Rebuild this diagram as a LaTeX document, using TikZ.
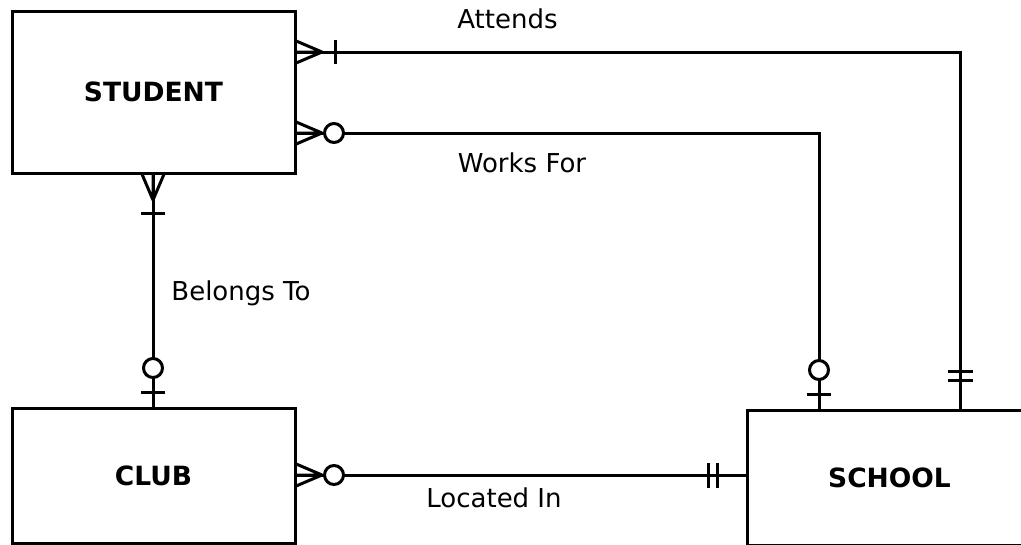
\documentclass[tikz,border=0pt]{standalone}
\usepackage{fontspec}
\setmainfont{DejaVu Sans}
\usetikzlibrary{calc}
\begin{document}
\begin{tikzpicture}[x=1pt,y=-1pt,
  ln/.style={line width=3pt},
  entity/.style={draw,ln,rectangle,inner sep=0pt,outer sep=0pt,font=\fontsize{26.5}{30}\selectfont\bfseries},
  rel/.style={inner sep=0pt,font=\fontsize{26}{30}\selectfont},
  onemany/.pic={\draw[ln] (0,-11.5) -- (27,0) (0,0) -- (27,0) (0,11.5) -- (27,0); \draw[ln] (40,-12) -- (40,12);},
  zeromany/.pic={\draw[ln] (0,-11.5) -- (27,0) (0,0) -- (27,0) (0,11.5) -- (27,0); \draw[ln,fill=white] (39,0) circle (9.5pt);},
  zeroone/.pic={\draw[ln] (16,-12) -- (16,12); \draw[ln,fill=white] (40,0) circle (9.5pt);},
  oneone/.pic={\draw[ln] (30,-12.5) -- (30,12.5) (39,-12.5) -- (39,12.5);}
]
\useasboundingbox (0,0) rectangle (1021,544);
\fill[white] (0,0) rectangle (1021,544);

\node[entity,minimum width=283,minimum height=162] (student) at (153.5,92) {STUDENT};
\node[entity,minimum width=283,minimum height=135] (club) at (153.5,475.5) {CLUB};
\node[entity,minimum width=285,minimum height=135] (school) at (889.5,477.5) {SCHOOL};

\coordinate (a1) at ($(student.north east)+(0,41)$);
\coordinate (a2) at ($(school.north west)+(213,0)$);
\coordinate (w1) at ($(student.north east)+(0,122)$);
\coordinate (w2) at ($(school.north west)+(72,0)$);
\coordinate (b1) at ($(student.south west)+(141,0)$);
\coordinate (b2) at ($(club.north west)+(141,0)$);
\coordinate (l1) at ($(club.north east)+(0,67)$);
\coordinate (l2) at (school.west |- l1);

\draw[ln] (a1) -| (a2);
\draw[ln] (w1) -| (w2);
\draw[ln] (b1) -- (b2);
\draw[ln] (l1) -- (l2);

\pic at (a1) {onemany};
\pic[rotate=90] at (a2) {oneone};
\pic at (w1) {zeromany};
\pic[rotate=90] at (w2) {zeroone};
\pic[rotate=-90] at (b1) {onemany};
\pic[rotate=90] at (b2) {zeroone};
\pic at (l1) {zeromany};
\pic[rotate=180] at (l2) {oneone};

\node[rel] (attends) at (507.5,19) {Attends};
\node[rel] (worksfor) at (522,163) {Works For};
\node[rel] (belongsto) at (241,293) {Belongs To};
\node[rel] (locatedin) at (494,498) {Located In};
\end{tikzpicture}
\end{document}
